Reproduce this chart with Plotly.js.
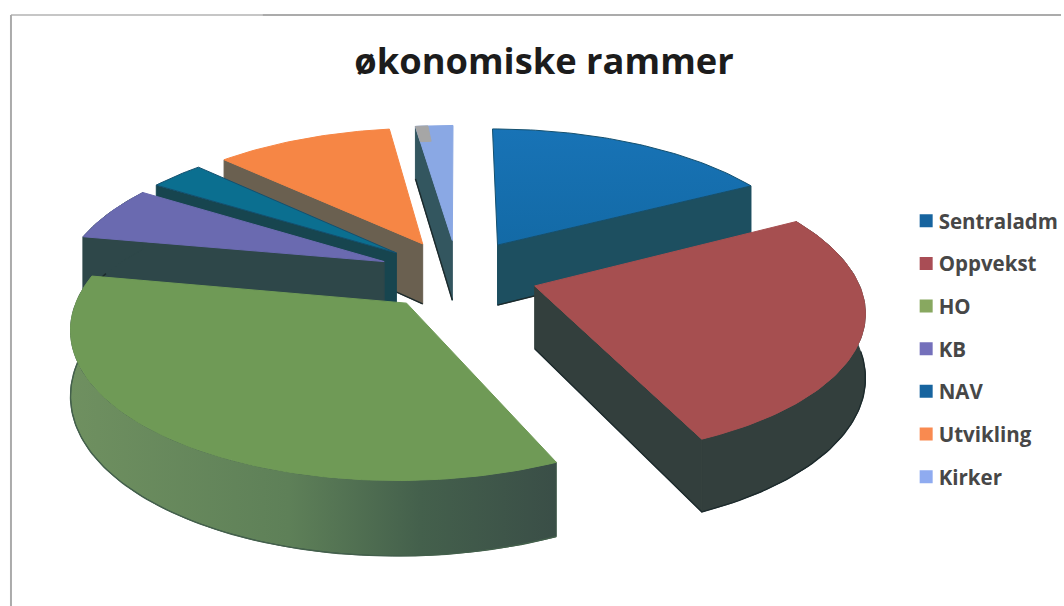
<!DOCTYPE html>
<html>
<head>
<meta charset="utf-8">
<script src="https://cdn.plot.ly/plotly-3.0.1.min.js"></script>
<style>html,body{margin:0;padding:0;background:#fff}#chart{width:1064px;height:606px}</style>
</head>
<body>
<div id="chart"></div>
<script>
const chartTitle = "økonomiske rammer";
const categories = ["Sentraladm", "Oppvekst", "HO", "KB", "NAV", "Utvikling", "Kirker"];
const values = [17, 26, 34.5, 6.1, 3.2, 10.4, 2.2];
const topColors = ["#1669a8", "#a64f50", "#6f9a56", "#6a6ab0", "#0b6f90", "#f68645", "#8aa8e4"];
const wallColors = ["#1d4f60", "#333f3d", "#3f5a4a", "#2e4749", "#17454f", "#6a6050", "#33565f"];
const legendColors = ["#17649f", "#a94d55", "#88a860", "#7470bb", "#17649f", "#f98a50", "#8fabf0"];

// View of the pie: a tilted disc, every slice pulled away from the centre.
const view = {cx: 459, cy: 274.5, rx: 322, ry: 141.5, tilt: 0.149, depth: 62, pull: 0.25};

function project(u, v, down) {
  const w = 1 + view.tilt * v;
  return [view.cx + view.rx * u / w, view.cy - view.ry * v / w + (down ? view.depth / w : 0)];
}
const total = values.reduce((a, b) => a + b, 0);
const TAU = Math.PI * 2;

function sliceGeometry(i) {
  const before = values.slice(0, i).reduce((a, b) => a + b, 0);
  const a0 = before / total * TAU, a1 = (before + values[i]) / total * TAU, mid = (a0 + a1) / 2;
  return {a0, a1, ou: view.pull * Math.sin(mid), ov: view.pull * Math.cos(mid)};
}
function rimAngles(a0, a1) {
  const n = Math.max(2, Math.ceil((a1 - a0) / 0.02)), out = [];
  for (let k = 0; k <= n; k++) out.push(a0 + (a1 - a0) * k / n);
  return out;
}
function rim(g, a0, a1, r) {
  return rimAngles(a0, a1).map(a => [g.ou + r * Math.sin(a), g.ov + r * Math.cos(a)]);
}
function poly(points, fill, line, extra) {
  const t = {
    type: "scatter", mode: "lines", fill: "toself", fillcolor: fill, showlegend: false, hoverinfo: "skip",
    x: points.map(p => p[0]), y: points.map(p => p[1]),
    line: {color: line, width: 1}
  };
  return Object.assign(t, extra || {});
}
function outline(points, color) {
  return {type: "scatter", mode: "lines", showlegend: false, hoverinfo: "skip",
          x: points.map(p => p[0]), y: points.map(p => p[1]), line: {color: color, width: 1.4}};
}
const traces = [];
const paintOrder = [6, 5, 4, 3, 0, 1, 2];
paintOrder.forEach(i => {
  const g = sliceGeometry(i);
  const angles = rimAngles(g.a0, g.a1);
  const edge = rim(g, g.a0, g.a1, 1);
  const top = edge.map(p => project(p[0], p[1], false));
  const low = edge.map(p => project(p[0], p[1], true));
  const apex = project(g.ou, g.ov), apexLow = project(g.ou, g.ov, true);
  const last = top.length - 1;
  const front = low.filter((p, k) => angles[k] >= TAU * 0.25 && angles[k] <= TAU * 0.81);
  let edgeLine = front;
  // only the cut faces that turn toward the viewer are drawn
  if (g.a1 <= Math.PI) {
    traces.push(poly([apex, top[last], low[last], apexLow, apex], wallColors[i], wallColors[i]));
    edgeLine = [apexLow, low[last]].concat(front.slice().reverse());
  } else if (g.a0 >= Math.PI) {
    traces.push(poly([apex, top[0], low[0], apexLow, apex], wallColors[i], wallColors[i]));
    edgeLine = [apexLow, low[0]].concat(front);
  }
  // the outer wall exists only where the rim is not wholly behind the slice
  if (g.a1 > TAU * 0.25 && g.a0 < TAU * 0.81) {
    const wallPts = top.concat(low.slice().reverse()); wallPts.push(top[0]);
    const wallExtra = i === 2 ? {fillgradient: {type: "horizontal", colorscale: [[0, "#6f9060"], [0.45, "#5e8058"], [0.72, "#44604c"], [1, "#3a4e47"]]}} : {};
    traces.push(poly(wallPts, wallColors[i], wallColors[i], wallExtra));
  }
  traces.push(outline(edgeLine, i === 2 ? "#44604c" : "#1c2a2c"));
  const topPts = [apex].concat(top); topPts.push(apex);
  const topExtra = i === 0 ? {fillgradient: {type: "vertical", colorscale: [[0, "#136aa6"], [1, "#1873b6"]]}} : {};
  traces.push(poly(topPts, topColors[i], i === 0 || i === 4 ? "#14506f" : topColors[i], topExtra));
  if (i === 6) {
    // the small grey chip at the outer corner of the Kirker slice
    const cut = g.a0 + (g.a1 - g.a0) * 0.33;
    const chip = rim(g, g.a0, cut, 1).concat(rim(g, g.a0, cut, 0.85).reverse()).map(p => project(p[0], p[1]));
    chip.push(chip[0]);
    traces.push(poly(chip, "#a6a6a6", "#a6a6a6"));
  }
});
categories.forEach((name, i) => {
  traces.push({
    type: "scatter", mode: "markers", name: name, x: [null], y: [null], legendgroup: name, hoverinfo: "skip",
    marker: {symbol: "square", size: 13, color: legendColors[i]}
  });
});

const layout = {
  width: 1064, height: 606,
  margin: {l: 0, r: 0, t: 0, b: 0, pad: 0},
  paper_bgcolor: "#ffffff", plot_bgcolor: "#ffffff",
  title: {text: chartTitle, x: 0.5127, xanchor: "center", y: 0.899, yanchor: "middle", xref: "paper", yref: "paper",
          font: {family: "Open Sans", size: 36.3, color: "#1c1c1c", weight: 700}},
  xaxis: {range: [0, 1064], visible: false, fixedrange: true},
  yaxis: {range: [606, 0], visible: false, fixedrange: true},
  legend: {x: 0.847, y: 0.6684, xanchor: "left", yanchor: "top", tracegroupgap: 13, itemclick: false, itemdoubleclick: false,
           bgcolor: "rgba(0,0,0,0)", font: {family: "Open Sans", size: 20.5, color: "#474747", weight: 700}},
  shapes: [
    {type: "line", xref: "paper", yref: "paper", x0: 263 / 1064, x1: 1, y0: 1 - 15 / 606, y1: 1 - 15 / 606, line: {color: "#ababab", width: 2}},
    {type: "line", xref: "paper", yref: "paper", x0: 11 / 1064, x1: 263 / 1064, y0: 1 - 15 / 606, y1: 1 - 15 / 606, line: {color: "#c6c6c6", width: 2}},
    {type: "line", xref: "paper", yref: "paper", x0: 11 / 1064, x1: 11 / 1064, y0: 0, y1: 1 - 15 / 606, line: {color: "#ababab", width: 2}}
  ]
};
Plotly.newPlot("chart", traces, layout, {displayModeBar: false}).then(() => {
  document.querySelectorAll("#chart .legend .legendsymbols").forEach(n => n.setAttribute("transform", "translate(7.5,0)"));
});
</script>
</body>
</html>
